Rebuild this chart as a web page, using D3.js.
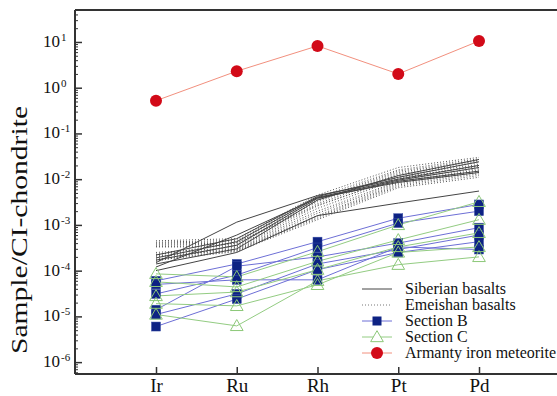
<!DOCTYPE html>
<html>
<head>
<meta charset="utf-8">
<script src="https://cdn.jsdelivr.net/npm/d3@7"></script>
<style>
    body { margin: 0; background: #fff; }
    svg { display: block; }
    svg text { font-family: "Liberation Serif", "Times New Roman", serif; }
</style>
</head>
<body>
<div id="chart"></div>
<script>
const elements = ["Ir", "Ru", "Rh", "Pt", "Pd"]

// Armanty iron meteorite
const armanty = [0.52, 2.3, 8.2, 2.0, 10.5]

// Siberian basalts (solid)
const siberian = [
    [1.5e-4, 1.15e-3, 4.4e-3, 1.0e-2, 2.0e-2],
    [2.2e-4, 5.0e-4, 4.2e-3, 1.1e-2, 2.4e-2],
    [1.9e-4, 4.3e-4, 4.0e-3, 9.5e-3, 1.8e-2],
    [1.7e-4, 3.6e-4, 3.8e-3, 9.0e-3, 1.5e-2],
    [1.4e-4, 3.0e-4, 3.5e-3, 1.2e-2, 2.7e-2],
    [1.0e-4, 2.5e-4, 1.6e-3, 3.0e-3, 5.5e-3],
    [1.2e-4, 6.0e-4, 3.9e-3, 8.5e-3, 1.4e-2]
]

// Emeishan basalts (dotted)
const emeishan = [
    [4.5e-4, 5.0e-4, 4.5e-3, 1.8e-2, 3.0e-2],
    [4.2e-4, 4.6e-4, 4.0e-3, 1.6e-2, 2.8e-2],
    [4.0e-4, 4.3e-4, 3.6e-3, 1.5e-2, 2.6e-2],
    [3.8e-4, 4.0e-4, 3.2e-3, 1.3e-2, 2.3e-2],
    [3.6e-4, 3.8e-4, 2.9e-3, 1.2e-2, 2.1e-2],
    [3.4e-4, 3.5e-4, 2.6e-3, 1.1e-2, 1.9e-2],
    [3.3e-4, 3.3e-4, 2.3e-3, 1.0e-2, 1.7e-2],
    [2.5e-4, 3.2e-4, 2.0e-3, 9.0e-3, 1.6e-2],
    [2.3e-4, 3.0e-4, 1.8e-3, 8.5e-3, 1.5e-2],
    [2.1e-4, 2.9e-4, 1.6e-3, 8.0e-3, 1.4e-2],
    [2.0e-4, 2.8e-4, 1.5e-3, 7.5e-3, 1.3e-2],
    [1.8e-4, 2.7e-4, 1.4e-3, 7.0e-3, 1.2e-2],
    [1.7e-4, 2.6e-4, 1.3e-3, 6.5e-3, 1.1e-2],
    [1.6e-4, 3.6e-4, 3.4e-3, 1.4e-2, 2.5e-2],
    [2.2e-4, 4.1e-4, 2.7e-3, 1.05e-2, 2.0e-2]
]

const sectionB = [
    [6.0e-5, 1.4e-4, 4.3e-4, 1.4e-3, 2.8e-3],
    [3.1e-5, 8.0e-5, 3.2e-4, 1.1e-3, 2.0e-3],
    [1.4e-5, 1.25e-4, 2.0e-4, 4.0e-4, 8.7e-4],
    [1.1e-5, 3.1e-5, 1.4e-4, 2.9e-4, 6.0e-4],
    [6.0e-6, 2.4e-5, 1.05e-4, 2.5e-4, 4.3e-4],
    [5.0e-5, 6.3e-5, 6.3e-5, 3.3e-4, 2.9e-4]
]

const sectionC = [
    [8.5e-5, 7.3e-5, 2.6e-4, 1.0e-3, 3.2e-3],
    [5.7e-5, 4.4e-5, 1.6e-4, 4.7e-4, 1.3e-3],
    [2.8e-5, 3.4e-5, 1.05e-4, 3.3e-4, 6.7e-4],
    [1.9e-5, 1.7e-5, 4.9e-5, 2.5e-4, 3.3e-4],
    [1.1e-5, 6.2e-6, 6.0e-5, 1.35e-4, 2.0e-4]
]

const yExponents = [1, 0, -1, -2, -3, -4, -5, -6]
const legendLabels = ["Siberian basalts", "Emeishan basalts", "Section B", "Section C", "Armanty iron meteorite"]

const W = 557, H = 396
const margin = { top: 10, right: 0, bottom: 22, left: 75 }
const axisColor = "#333"
const serif = "'Liberation Serif', 'Times New Roman', serif"

const svg = d3.select("#chart")
    .append("svg")
    .attr("width", W)
    .attr("height", H)

const x = d3.scalePoint()
    .domain(elements)
    .range([156, 479])

const y = d3.scaleLog()
    .domain([5.5e-7, 50])
    .range([H - margin.bottom, margin.top])

// minor + major ticks on the left axis (pointing inside)
const minor = []
for (let e = -7; e <= 1; e++) {
    for (let m = 2; m <= 9; m++) {
        const v = m * Math.pow(10, e)
        if (v >= y.domain()[0] && v <= y.domain()[1]) minor.push(v)
    }
}
svg.append("g")
    .attr("transform", `translate(${margin.left},0)`)
    .call(d3.axisLeft(y).tickValues(minor).tickSize(-3).tickFormat(""))
    .call(g => g.select(".domain").remove())
    .selectAll("line").attr("stroke", axisColor)

svg.append("g")
    .attr("transform", `translate(${margin.left},0)`)
    .call(d3.axisLeft(y).tickValues(yExponents.map(e => Math.pow(10, e))).tickSize(-7).tickFormat(""))
    .call(g => g.select(".domain").remove())
    .selectAll("line").attr("stroke", axisColor).attr("stroke-width", 1.5)

const labels = svg.append("g")
    .selectAll("text")
    .data(yExponents)
    .join("text")
    .attr("y", d => y(Math.pow(10, d)) + 5)
    .attr("font-size", 17)
    .style("font-family", serif)
    .attr("fill", "#111")
labels.append("tspan")
    .attr("x", 60)
    .attr("text-anchor", "end")
    .text("10")
labels.append("tspan")
    .attr("x", 61)
    .attr("dy", -6)
    .attr("font-size", 11)
    .text(d => d < 0 ? "-" + Math.abs(d) : d)

// x axis ticks (inside)
svg.append("g")
    .attr("transform", `translate(0,${H - margin.bottom})`)
    .call(d3.axisBottom(x).tickSize(-7).tickPadding(5))
    .call(g => g.select(".domain").remove())
    .call(g => g.selectAll("line").attr("stroke", axisColor).attr("stroke-width", 1.5))
    .call(g => g.selectAll("text")
        .attr("font-size", 19)
        .style("font-family", serif)
        .attr("fill", "#111"))

// frame
svg.append("line")
    .attr("x1", margin.left).attr("x2", W)
    .attr("y1", margin.top).attr("y2", margin.top)
    .attr("stroke", axisColor).attr("stroke-width", 2)
svg.append("line")
    .attr("x1", margin.left).attr("x2", W)
    .attr("y1", H - margin.bottom).attr("y2", H - margin.bottom)
    .attr("stroke", axisColor).attr("stroke-width", 2)
svg.append("line")
    .attr("x1", margin.left).attr("x2", margin.left)
    .attr("y1", margin.top).attr("y2", H - margin.bottom)
    .attr("stroke", axisColor).attr("stroke-width", 2)

svg.append("text")
    .attr("transform", `translate(27,${(margin.top + H - margin.bottom) / 2 + 38}) rotate(-90)`)
    .attr("text-anchor", "middle")
    .attr("font-size", 23)
    .style("font-family", serif)
    .attr("textLength", 248)
    .attr("lengthAdjust", "spacingAndGlyphs")
    .attr("fill", "#111")
    .text("Sample/CI-chondrite")

const line = d3.line()
    .x((d, i) => x(elements[i]))
    .y(d => y(d))

const plot = svg.append("g")

plot.selectAll(".em")
    .data(emeishan)
    .join("path")
    .attr("d", line)
    .attr("fill", "none")
    .attr("stroke", "#555")
    .attr("stroke-width", 1)
    .attr("stroke-dasharray", "1,2")

plot.selectAll(".sib")
    .data(siberian)
    .join("path")
    .attr("d", line)
    .attr("fill", "none")
    .attr("stroke", "#444")
    .attr("stroke-width", 1)

plot.selectAll(".lb")
    .data(sectionB)
    .join("path")
    .attr("d", line)
    .attr("fill", "none")
    .attr("stroke", "#6d6fd6")
    .attr("stroke-width", 1)

plot.selectAll(".lc")
    .data(sectionC)
    .join("path")
    .attr("d", line)
    .attr("fill", "none")
    .attr("stroke", "#93cc82")
    .attr("stroke-width", 1)

const blue = "#0d2283"
const tri = d3.symbol().type(d3.symbolTriangle).size(70)

plot.selectAll(".sq")
    .data(sectionB.flatMap(s => s.map((v, i) => ({ el: elements[i], v }))))
    .join("rect")
    .attr("x", d => x(d.el) - 4.5)
    .attr("y", d => y(d.v) - 4.5)
    .attr("width", 9)
    .attr("height", 9)
    .attr("fill", blue)
    .attr("stroke", "#3a4fa8")
    .attr("stroke-width", 0.5)

plot.selectAll(".tr")
    .data(sectionC.flatMap(s => s.map((v, i) => ({ el: elements[i], v }))))
    .join("path")
    .attr("transform", d => `translate(${x(d.el)},${y(d.v) + 1})`)
    .attr("d", tri)
    .attr("fill", "none")
    .attr("stroke", "#8cc878")
    .attr("stroke-width", 1)

plot.append("path")
    .datum(armanty)
    .attr("d", line)
    .attr("fill", "none")
    .attr("stroke", "#f2907e")
    .attr("stroke-width", 1)

plot.selectAll(".rc")
    .data(armanty)
    .join("circle")
    .attr("cx", (d, i) => x(elements[i]))
    .attr("cy", d => y(d))
    .attr("r", 6)
    .attr("fill", "#d20a18")

// legend
const legend = svg.append("g").attr("transform", "translate(362,289)")
const rowH = 16
const legendStyles = [
    { stroke: "#444", dash: null },
    { stroke: "#777", dash: "1,2" },
    { stroke: "#6d6fd6", dash: null },
    { stroke: "#93cc82", dash: null },
    { stroke: "#f2907e", dash: null }
]
legendLabels.forEach((label, i) => {
    const g = legend.append("g").attr("transform", `translate(0,${i * rowH})`)
    g.append("line")
        .attr("x1", 0).attr("x2", 30)
        .attr("stroke", legendStyles[i].stroke)
        .attr("stroke-width", 1)
        .attr("stroke-dasharray", legendStyles[i].dash)
    if (i === 2) {
        g.append("rect").attr("x", 10.5).attr("y", -4.5).attr("width", 9).attr("height", 9).attr("fill", blue)
    } else if (i === 3) {
        g.append("path").attr("transform", "translate(15,1)").attr("d", tri)
            .attr("fill", "#fff").attr("stroke", "#8cc878")
    } else if (i === 4) {
        g.append("circle").attr("cx", 15).attr("r", 6).attr("fill", "#d20a18")
    }
    g.append("text")
        .attr("x", 43)
        .attr("y", 5)
        .attr("font-size", 16)
        .style("font-family", serif)
        .attr("fill", "#111")
        .text(label)
})
</script>
</body>
</html>
